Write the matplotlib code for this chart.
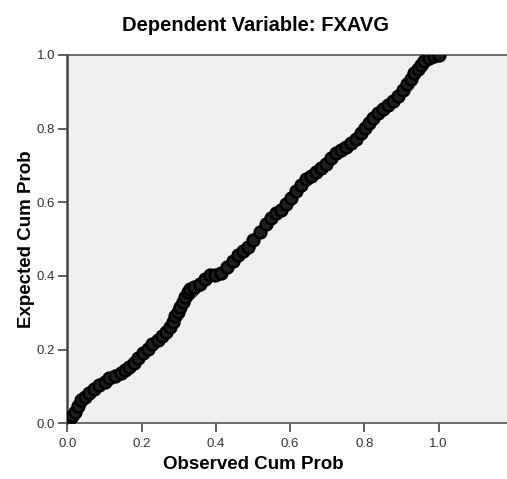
import matplotlib
matplotlib.use("Agg")
from matplotlib import pyplot as plt

plt.rcParams['font.family'] = ['Liberation Sans', 'DejaVu Sans']

# observed / expected cumulative probabilities
observed = [0.000, 0.005, 0.012, 0.019, 0.028, 0.037, 0.048, 0.059, 0.072, 0.086,
            0.100, 0.113, 0.129, 0.145, 0.156, 0.167, 0.178, 0.190, 0.203, 0.216,
            0.229, 0.243, 0.255, 0.266, 0.276, 0.284, 0.291, 0.297, 0.304, 0.311,
            0.318, 0.324, 0.329, 0.342, 0.356, 0.370, 0.383, 0.398, 0.414, 0.430,
            0.446, 0.460, 0.473, 0.486, 0.499, 0.518, 0.535, 0.549, 0.563, 0.576,
            0.589, 0.602, 0.616, 0.629, 0.643, 0.656, 0.670, 0.684, 0.697, 0.710,
            0.724, 0.738, 0.751, 0.764, 0.778, 0.790, 0.801, 0.812, 0.823, 0.837,
            0.850, 0.864, 0.877, 0.890, 0.904, 0.915, 0.926, 0.935, 0.944, 0.953,
            0.962, 0.975, 0.989, 1.000]
expected = [0.000, 0.009, 0.020, 0.032, 0.048, 0.063, 0.072, 0.081, 0.093, 0.104,
            0.113, 0.122, 0.129, 0.136, 0.145, 0.154, 0.165, 0.176, 0.190, 0.203,
            0.214, 0.226, 0.237, 0.248, 0.262, 0.276, 0.290, 0.303, 0.317, 0.330,
            0.344, 0.357, 0.364, 0.370, 0.378, 0.392, 0.402, 0.403, 0.408, 0.424,
            0.440, 0.456, 0.468, 0.480, 0.497, 0.519, 0.540, 0.557, 0.570, 0.580,
            0.595, 0.613, 0.632, 0.648, 0.662, 0.672, 0.682, 0.693, 0.705, 0.720,
            0.735, 0.742, 0.750, 0.760, 0.772, 0.787, 0.801, 0.815, 0.828, 0.842,
            0.854, 0.864, 0.876, 0.890, 0.906, 0.920, 0.935, 0.950, 0.962, 0.974,
            0.985, 0.993, 0.998, 1.000]
ref_line = [0.0, 1.0]
ticks = [0.0, 0.2, 0.4, 0.6, 0.8, 1.0]
tick_labels = ["0.0", "0.2", "0.4", "0.6", "0.8", "1.0"]

fig = plt.figure(figsize=(5.07, 4.79), dpi=100)
ax = fig.add_axes([0.1331, 0.1163, 0.8669, 0.7689])
ax.set_facecolor("#f0f0f0")

ax.plot(ref_line, ref_line, color="black", lw=0.8, zorder=2)
ax.plot(observed, expected, linestyle="none", marker="o", markersize=8.5,
        markerfacecolor="#1e1e1e", markeredgecolor="black", markeredgewidth=1.8,
        zorder=3)

ax.set_xlim(0, 1.1846)
ax.set_ylim(0, 1.0)
ax.set_xticks(ticks)
ax.set_xticklabels(tick_labels)
ax.set_yticks(ticks)
ax.set_yticklabels(tick_labels)
ax.tick_params(direction="out", length=6.5, width=1.2, color="#444444",
               labelsize=9.5, labelcolor="#333333", pad=2.5)
ax.tick_params(axis="x", pad=4)

ax.spines["right"].set_visible(False)
ax.spines["left"].set_linewidth(1.8)
ax.spines["left"].set_color("#444444")
ax.spines["top"].set_linewidth(1.2)
ax.spines["top"].set_color("#555555")
ax.spines["bottom"].set_linewidth(1.2)
ax.spines["bottom"].set_color("#555555")

fig.text(0.503, 0.947, "Dependent Variable: FXAVG", ha="center", va="center",
         fontsize=14.5, fontweight="bold")
fig.text(0.5, 0.031, "Observed Cum Prob", ha="center", va="center",
         fontsize=13.5, fontweight="bold")
fig.text(0.053, 0.501, "Expected Cum Prob", ha="center", va="center",
         rotation=90, fontsize=13.5, fontweight="bold")

fig.savefig("out.png", dpi=100)
